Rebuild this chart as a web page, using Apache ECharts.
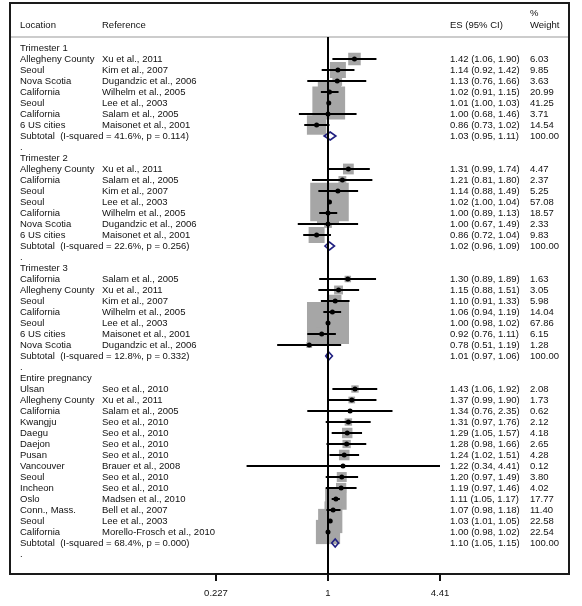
<!DOCTYPE html>
<html><head><meta charset="utf-8">
<script src="https://cdn.jsdelivr.net/npm/echarts@6/dist/echarts.min.js"></script>
<style>html,body{margin:0;padding:0;background:#fff}#c{width:582px;height:606px}</style>
</head><body><div id="c"></div>
<script>
// ---- data ----
const groupNames = ['Trimester 1', 'Trimester 2', 'Trimester 3', 'Entire pregnancy'];
const groupI2 = ['41.6%', '22.6%', '12.8%', '68.4%'];
const groupP = ['0.114', '0.256', '0.332', '0.000'];
const subtotalES = [1.03, 1.02, 1.01, 1.10];
const subtotalLow = [0.95, 0.96, 0.97, 1.05];
const subtotalHigh = [1.11, 1.09, 1.06, 1.15];

const studyGroup = [0,0,0,0,0,0,0, 1,1,1,1,1,1,1, 2,2,2,2,2,2,2, 3,3,3,3,3,3,3,3,3,3,3,3,3,3];
const studyLocation = [
  'Allegheny County','Seoul','Nova Scotia','California','Seoul','California','6 US cities',
  'Allegheny County','California','Seoul','Seoul','California','Nova Scotia','6 US cities',
  'California','Allegheny County','Seoul','California','Seoul','6 US cities','Nova Scotia',
  'Ulsan','Allegheny County','California','Kwangju','Daegu','Daejon','Pusan','Vancouver','Seoul','Incheon','Oslo','Conn., Mass.','Seoul','California'
];
const studyReference = [
  'Xu et al., 2011','Kim et al., 2007','Dugandzic et al., 2006','Wilhelm et al., 2005','Lee et al., 2003','Salam et al., 2005','Maisonet et al., 2001',
  'Xu et al., 2011','Salam et al., 2005','Kim et al., 2007','Lee et al., 2003','Wilhelm et al., 2005','Dugandzic et al., 2006','Maisonet et al., 2001',
  'Salam et al., 2005','Xu et al., 2011','Kim et al., 2007','Wilhelm et al., 2005','Lee et al., 2003','Maisonet et al., 2001','Dugandzic et al., 2006',
  'Seo et al., 2010','Xu et al., 2011','Salam et al., 2005','Seo et al., 2010','Seo et al., 2010','Seo et al., 2010','Seo et al., 2010','Brauer et al., 2008','Seo et al., 2010','Seo et al., 2010','Madsen et al., 2010','Bell et al., 2007','Lee et al., 2003','Morello-Frosch et al., 2010'
];
const es = [
  1.42,1.14,1.13,1.02,1.01,1.00,0.86,
  1.31,1.21,1.14,1.02,1.00,1.00,0.86,
  1.30,1.15,1.10,1.06,1.00,0.92,0.78,
  1.43,1.37,1.34,1.31,1.29,1.28,1.24,1.22,1.20,1.19,1.11,1.07,1.03,1.00
];
const low = [
  1.06,0.92,0.76,0.91,1.00,0.68,0.73,
  0.99,0.81,0.88,1.00,0.89,0.67,0.72,
  0.89,0.88,0.91,0.94,0.98,0.76,0.51,
  1.06,0.99,0.76,0.97,1.05,0.98,1.02,0.34,0.97,0.97,1.05,0.98,1.01,0.98
];
const high = [
  1.90,1.42,1.66,1.15,1.03,1.46,1.02,
  1.74,1.80,1.49,1.04,1.13,1.49,1.04,
  1.89,1.51,1.33,1.19,1.02,1.11,1.19,
  1.92,1.90,2.35,1.76,1.57,1.66,1.51,4.41,1.49,1.46,1.17,1.18,1.05,1.02
];
const weight = [
  6.03,9.85,3.63,20.99,41.25,3.71,14.54,
  4.47,2.37,5.25,57.08,18.57,2.33,9.83,
  1.63,3.05,5.98,14.04,67.86,6.15,1.28,
  2.08,1.73,0.62,2.12,4.18,2.65,4.28,0.12,3.80,4.02,17.77,11.40,22.58,22.54
];
const tickValues = [0.227, 1, 4.41];
const tickLabels = ['0.227', '1', '4.41'];

// ---- build rows ----
const rows = [];
groupNames.forEach((g, gi) => {
  rows.push({kind: 'header', text: g});
  studyGroup.forEach((sg, si) => { if (sg === gi) rows.push({kind: 'study', i: si}); });
  rows.push({kind: 'subtotal', g: gi});
  rows.push({kind: 'dot'});
});

// ---- layout ----
const FONT = '9.5px "Liberation Sans", Arial, sans-serif';
const TXT = '#111111';
const colLoc = 20, colRef = 102, colES = 450, colW = 530;
const gridTop = 37, gridBottom = 32, rowPx = 11;
const yMin = -1, yMax = yMin + (606 - gridTop - gridBottom) / rowPx;
const boxScale = 5.1;

const boxData = [], dotData = [];
rows.forEach((r, ri) => {
  if (r.kind === 'study') {
    boxData.push([es[r.i], ri, weight[r.i]]);
    dotData.push([es[r.i], ri]);
  }
});

function fmt(v) { return v.toFixed(2); }

function renderRow(params, api) {
  const r = rows[params.dataIndex];
  const ri = params.dataIndex;
  const y = api.coord([1, ri])[1];
  const ch = [];
  const t = (x, s) => ch.push({type: 'text', x: x, y: y, style: {text: s, fill: TXT, font: FONT, align: 'left', verticalAlign: 'middle'}});
  if (r.kind === 'header') t(colLoc, r.text);
  else if (r.kind === 'dot') t(colLoc, '.');
  else if (r.kind === 'study') {
    const i = r.i;
    t(colLoc, studyLocation[i]); t(colRef, studyReference[i]);
    t(colES, fmt(es[i]) + ' (' + fmt(low[i]) + ', ' + fmt(high[i]) + ')');
    t(colW, fmt(weight[i]));
    const p1 = api.coord([low[i], ri]), p2 = api.coord([high[i], ri]);
    ch.push({type: 'line', shape: {x1: p1[0], y1: y, x2: p2[0], y2: y}, style: {stroke: '#000', lineWidth: 2}});
  } else if (r.kind === 'subtotal') {
    const g = r.g;
    t(colLoc, 'Subtotal  (I-squared = ' + groupI2[g] + ', p = ' + groupP[g] + ')');
    t(colES, fmt(subtotalES[g]) + ' (' + fmt(subtotalLow[g]) + ', ' + fmt(subtotalHigh[g]) + ')');
    t(colW, '100.00');
    const a = api.coord([subtotalLow[g], ri])[0], m = api.coord([subtotalES[g], ri])[0], b = api.coord([subtotalHigh[g], ri])[0];
    ch.push({type: 'polygon', shape: {points: [[a, y], [m, y - 4], [b, y], [m, y + 4]]}, style: {fill: 'none', stroke: '#1f1f80', lineWidth: 1.6}});
  }
  return {type: 'group', children: ch};
}

const chart = echarts.init(document.getElementById('c'), null, {renderer: 'canvas'});
chart.setOption({
  animation: false,
  backgroundColor: '#fff',
  grid: {left: 216, right: 142, top: gridTop, bottom: gridBottom, containLabel: false},
  xAxis: {
    type: 'log', position: 'bottom', logBase: tickValues[2], min: 1 / tickValues[2], max: tickValues[2], splitNumber: 2,
    axisLine: {show: true, onZero: false, lineStyle: {color: '#111', width: 2}},
    axisTick: {show: true, inside: false, length: 7, lineStyle: {color: '#111', width: 2}},
    axisLabel: {
      margin: 14, color: '#111', fontSize: 9.5, fontFamily: '"Liberation Sans", Arial, sans-serif',
      showMinLabel: true, showMaxLabel: true,
      formatter: function (v) {
        let best = 0, d = Infinity;
        tickValues.forEach((tv, k) => { const dd = Math.abs(Math.log(v) - Math.log(tv)); if (dd < d) { d = dd; best = k; } });
        return tickLabels[best];
      }
    },
    splitLine: {show: false}
  },
  yAxis: {type: 'value', inverse: true, min: yMin, max: yMax, show: false, axisLine: {onZero: false}, splitLine: {show: false}},
  graphic: [
    {type: 'rect', shape: {x: 10, y: 3, width: 559, height: 571}, style: {fill: 'none', stroke: '#1a1a1a', lineWidth: 2}, z: 0},
    {type: 'line', shape: {x1: 11, y1: 37, x2: 568, y2: 37}, style: {stroke: '#9a9a9a', lineWidth: 1.2}, z: 0},
    {type: 'text', x: colLoc, y: 25, style: {text: 'Location', fill: TXT, font: FONT, verticalAlign: 'middle'}},
    {type: 'text', x: colRef, y: 25, style: {text: 'Reference', fill: TXT, font: FONT, verticalAlign: 'middle'}},
    {type: 'text', x: colES, y: 25, style: {text: 'ES (95% CI)', fill: TXT, font: FONT, verticalAlign: 'middle'}},
    {type: 'text', x: colW, y: 13, style: {text: '%', fill: TXT, font: FONT, verticalAlign: 'middle'}},
    {type: 'text', x: colW, y: 25, style: {text: 'Weight', fill: TXT, font: FONT, verticalAlign: 'middle'}}
  ],
  series: [
    {
      type: 'line', data: [], z: 1, silent: true,
      markLine: {symbol: 'none', silent: true, label: {show: false}, lineStyle: {color: '#000', width: 2, type: 'solid'}, data: [{xAxis: 1}]}
    },
    {
      type: 'scatter', z: 2, silent: true, data: boxData, symbol: 'rect',
      symbolSize: v => boxScale * Math.sqrt(v[2]),
      itemStyle: {color: '#a6a6a6', opacity: 1}
    },
    {type: 'custom', z: 3, silent: true, clip: false, renderItem: renderRow, data: rows.map((r, i) => [1, i])},
    {type: 'scatter', z: 4, silent: true, data: dotData, symbol: 'circle', symbolSize: 5, itemStyle: {color: '#000', opacity: 1}}
  ]
});
</script></body></html>
